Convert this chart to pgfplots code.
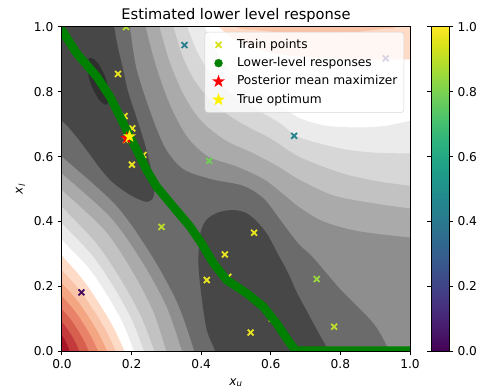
\documentclass[border=0pt]{standalone}
\usepackage{fontspec}
\setmainfont{DejaVu Sans}
\usepackage{pgfplots}
\pgfplotsset{compat=1.18}
\usetikzlibrary{plotmarks}
\definecolor{c0}{HTML}{A81529}
\definecolor{c1}{HTML}{C4393B}
\definecolor{c2}{HTML}{D6604D}
\definecolor{c3}{HTML}{E8836A}
\definecolor{c4}{HTML}{F4A582}
\definecolor{c5}{HTML}{F9C3A8}
\definecolor{c6}{HTML}{FDDBC7}
\definecolor{c7}{HTML}{FFFFFF}
\definecolor{c8}{HTML}{EBEBEB}
\definecolor{c9}{HTML}{D7D7D7}
\definecolor{c10}{HTML}{C2C2C2}
\definecolor{c11}{HTML}{AAAAAA}
\definecolor{c12}{HTML}{8E8E8E}
\definecolor{c13}{HTML}{6B6B6B}
\definecolor{c14}{HTML}{474747}
\definecolor{c15}{HTML}{2F2F2F}
\definecolor{mplgreen}{HTML}{008000}
\definecolor{legyellow}{HTML}{D8E219}
\pgfdeclareplotmark{fstar}{%
 \pgfpathmoveto{\pgfpointpolar{90}{\pgfplotmarksize}}%
 \pgfpathlineto{\pgfpointpolar{126}{0.4\pgfplotmarksize}}%
 \pgfpathlineto{\pgfpointpolar{162}{\pgfplotmarksize}}%
 \pgfpathlineto{\pgfpointpolar{198}{0.4\pgfplotmarksize}}%
 \pgfpathlineto{\pgfpointpolar{234}{\pgfplotmarksize}}%
 \pgfpathlineto{\pgfpointpolar{270}{0.4\pgfplotmarksize}}%
 \pgfpathlineto{\pgfpointpolar{306}{\pgfplotmarksize}}%
 \pgfpathlineto{\pgfpointpolar{342}{0.4\pgfplotmarksize}}%
 \pgfpathlineto{\pgfpointpolar{18}{\pgfplotmarksize}}%
 \pgfpathlineto{\pgfpointpolar{54}{0.4\pgfplotmarksize}}%
 \pgfpathclose\pgfusepathqfill}
\pgfplotstableread{
x y c
0.184 1.000 0.88
0.352 0.944 0.42
0.930 0.903 0.10
0.161 0.855 0.97
0.180 0.725 0.97
0.202 0.687 0.97
0.184 0.651 0.97
0.201 0.575 0.97
0.234 0.605 0.97
0.423 0.587 0.78
0.667 0.664 0.45
0.286 0.383 0.90
0.552 0.365 0.97
0.468 0.298 0.97
0.416 0.219 0.97
0.478 0.229 0.97
0.732 0.222 0.85
0.542 0.057 0.97
0.603 0.100 0.97
0.782 0.075 0.90
0.056 0.181 0.02
}\trainpts
\begin{document}
\begin{tikzpicture}
\begin{axis}[
  name=main,
  scale only axis, width=285.4pt, height=265.7pt,
  xmin=0, xmax=1, ymin=0, ymax=1,
  axis on top,
  clip marker paths=true,
  xtick={0,0.2,0.4,0.6,0.8,1}, ytick={0,0.2,0.4,0.6,0.8,1},
  tick align=outside, xtick pos=left, ytick pos=left,
  major tick length=3.5pt,
  every tick/.style={black, line width=0.8pt},
  axis line style={line width=0.8pt},
  tick label style={font=\fontsize{10}{12}\selectfont},
  /pgf/number format/fixed, /pgf/number format/fixed zerofill,
  /pgf/number format/precision=1, /pgf/number format/assume math mode=true,
  title={Estimated lower level response},
  title style={font=\fontsize{12}{14}\selectfont, at={(0.5,1)}, anchor=base, yshift=0pt},
  xlabel={\textit{x}\textsubscript{\textit{u}}},
  ylabel={\textit{x}\textsubscript{\textit{l}}},
  every axis x label/.style={at={(axis description cs:0.5,-0.098)}, anchor=center, font=\fontsize{10}{12}\selectfont},
  every axis y label/.style={at={(axis description cs:-0.119,0.5)}, anchor=center, rotate=90, font=\fontsize{10}{12}\selectfont},
  colormap/viridis,
  point meta min=0, point meta max=1,
  colorbar,
  colorbar style={
    scale only axis, width=14.5pt, height=265.7pt,
    at={(parent axis.north east)}, anchor=north west, xshift=8.9pt,
    ytick={0,0.2,0.4,0.6,0.8,1},
    tick align=outside, major tick length=3.5pt,
    every tick/.style={black, line width=0.8pt},
    axis line style={line width=0.8pt},
    yticklabel style={font=\fontsize{10}{12}\selectfont,
      /pgf/number format/fixed, /pgf/number format/fixed zerofill,
      /pgf/number format/precision=1, /pgf/number format/assume math mode=true},
  },
  legend style={at={(0.983,0.985)}, anchor=north east, draw=black!20,
    fill=white, fill opacity=0.8, draw opacity=0.8, text opacity=1,
    rounded corners=2.5pt, inner xsep=2pt, inner ysep=3pt,
    font=\fontsize{10}{12}\selectfont,
    nodes={inner xsep=3.3pt, inner ysep=2.6pt, text height=7.6pt, text depth=2.2pt}},
  legend cell align=left,
  legend image code/.code={\path (-8.4pt,0pt) (11.1pt,0pt); \draw[#1] plot coordinates {(0pt,0pt)};},
]
\addlegendimage{only marks, mark=x, mark size=3.4pt, line width=1.5pt, draw=legyellow, draw opacity=1}
\addlegendentry{Train points}
\addlegendimage{only marks, mark=*, mark size=3.2pt, draw=mplgreen, fill=mplgreen, fill opacity=1, draw opacity=1}
\addlegendentry{Lower-level responses}
\addlegendimage{only marks, mark=fstar, mark size=5.5pt, fill=red, fill opacity=1}
\addlegendentry{Posterior mean maximizer}
\addlegendimage{only marks, mark=fstar, mark size=5.5pt, fill=yellow, fill opacity=1}
\addlegendentry{True optimum}

% ---- filled contour bands ----
\addplot[fill=c0, draw=none, forget plot] coordinates {(-0.2,-0.2)(1.2,-0.2)(1.2,1.2)(-0.2,1.2)};
\addplot[fill=c1, draw=none, smooth, forget plot] coordinates {(-0.03,0.101)(0,0.05)(0.0073,0.0375)(0.0130,0.025)(0.0181,0.0125)(0.022,0)(0.031,-0.03)(1.2,-0.2)(1.2,1.2)(-0.2,1.2)};
\addplot[fill=c2, draw=none, smooth, forget plot] coordinates {(-0.03,0.131)(0,0.09)(0.0166,0.0675)(0.0297,0.045)(0.0411,0.0225)(0.05,0)(0.062,-0.03)(1.2,-0.2)(1.2,1.2)(-0.2,1.2)};
\addplot[fill=c3, draw=none, smooth, forget plot] coordinates {(-0.03,0.168)(0,0.13)(0.0256,0.0975)(0.0457,0.065)(0.0632,0.0325)(0.077,0)(0.0897,-0.03)(1.2,-0.2)(1.2,1.2)(-0.2,1.2)};
\addplot[fill=c4, draw=none, smooth, forget plot] coordinates {(-0.03,0.207)(0,0.17)(0.0345,0.1275)(0.0617,0.085)(0.0854,0.0425)(0.104,0)(0.117,-0.03)(1.2,-0.2)(1.2,1.2)(-0.2,1.2)};
\addplot[fill=c5, draw=none, smooth, forget plot] coordinates {(-0.03,0.246)(0,0.21)(0.0432,0.1575)(0.0771,0.105)(0.1067,0.0525)(0.13,0)(0.143,-0.03)(1.2,-0.2)(1.2,1.2)(-0.2,1.2)};
\addplot[fill=c6, draw=none, smooth, forget plot] coordinates {(-0.03,0.286)(0,0.25)(0.0515,0.1875)(0.0919,0.125)(0.1273,0.0625)(0.155,0)(0.168,-0.03)(1.2,-0.2)(1.2,1.2)(0.975,1.06)(0.96,1)(0.93,0.995)(0.85,0.985)(0.75,0.98)(0.65,0.982)(0.56,0.99)(0.5,1)(0.48,1.06)(-0.2,1.2)};
\addplot[fill=c7, draw=none, smooth, forget plot] coordinates {(-0.03,0.332)(0,0.295)(0.0598,0.2213)(0.1067,0.1475)(0.1478,0.0738)(0.18,0)(0.193,-0.03)(1.2,-0.2)(1.06,0.9)(1,0.9)(0.93,0.9)(0.85,0.9)(0.73,0.905)(0.63,0.915)(0.55,0.935)(0.49,0.965)(0.45,1)(0.41,1.04)(-0.2,1.2)};
\addplot[fill=c8, draw=none, smooth, forget plot] coordinates {(-0.03,0.377)(0,0.343)(0.0764,0.2573)(0.1308,0.1715)(0.1753,0.0858)(0.207,0)(0.218,-0.03)(1.2,-0.2)(1.06,0.72)(1,0.71)(0.93,0.695)(0.86,0.69)(0.76,0.695)(0.68,0.72)(0.61,0.77)(0.54,0.82)(0.48,0.87)(0.44,0.93)(0.41,1)(0.395,1.05)(-0.2,1.2)};
\addplot[fill=c9, draw=none, smooth, forget plot] coordinates {(-0.03,0.428)(0,0.394)(0.0871,0.2955)(0.1492,0.197)(0.1999,0.0985)(0.236,0)(0.247,-0.03)(1.2,-0.2)(1.06,0.61)(1,0.61)(0.9,0.612)(0.8,0.625)(0.68,0.66)(0.63,0.70)(0.56,0.745)(0.49,0.79)(0.43,0.85)(0.39,0.92)(0.36,1)(0.345,1.05)(-0.2,1.2)};
\addplot[fill=c10, draw=none, smooth, forget plot] coordinates {(-0.03,0.479)(0,0.445)(0.0982,0.3338)(0.1681,0.2225)(0.2253,0.1113)(0.266,0)(0.277,-0.03)(1.2,-0.2)(1.06,0.505)(1,0.51)(0.9,0.525)(0.8,0.55)(0.68,0.60)(0.6,0.655)(0.52,0.70)(0.45,0.75)(0.39,0.82)(0.35,0.9)(0.32,1)(0.305,1.05)(-0.2,1.2)};
\addplot[fill=c11, draw=none, smooth, forget plot] coordinates {(-0.03,0.527)(0,0.497)(0.1224,0.3728)(0.201,0.2485)(0.2613,0.1243)(0.30,0)(0.309,-0.03)(1.2,-0.2)(1.06,0.435)(1,0.44)(0.9,0.455)(0.78,0.48)(0.68,0.53)(0.62,0.57)(0.55,0.61)(0.47,0.65)(0.40,0.71)(0.35,0.79)(0.31,0.89)(0.28,1)(0.265,1.05)(-0.2,1.2)};
\addplot[fill=c12, draw=none, smooth, forget plot] coordinates {(-0.03,0.577)(0,0.548)(0.1408,0.411)(0.2312,0.274)(0.3005,0.137)(0.345,0)(0.355,-0.03)(1.2,-0.2)(1.06,0.345)(1,0.35)(0.85,0.37)(0.75,0.40)(0.68,0.445)(0.64,0.48)(0.58,0.53)(0.5,0.57)(0.42,0.60)(0.36,0.66)(0.31,0.76)(0.27,0.88)(0.24,1)(0.228,1.05)(-0.2,1.2)};
\addplot[fill=c13, draw=none, smooth, forget plot] coordinates {(-0.03,0.629)(0,0.60)(0.155,0.45)(0.2546,0.30)(0.331,0.15)(0.38,0)(0.39,-0.06)(0.96,-0.06)(0.94,0)(0.895,0.085)(0.80,0.19)(0.72,0.29)(0.68,0.33)(0.63,0.40)(0.58,0.47)(0.52,0.51)(0.43,0.53)(0.35,0.56)(0.30,0.62)(0.262,0.713)(0.215,0.867)(0.195,1)(0.188,1.05)(-0.2,1.2)};
\addplot[fill=c14, draw=none, smooth, forget plot] coordinates {(-0.06,0.745)(0,0.71)(0.035,0.67)(0.071,0.62)(0.105,0.57)(0.138,0.528)(0.17,0.50)(0.205,0.476)(0.243,0.46)(0.26,0.47)(0.266,0.495)(0.262,0.53)(0.25,0.59)(0.235,0.65)(0.21,0.734)(0.19,0.80)(0.176,0.867)(0.16,0.94)(0.15,1)(0.14,1.06)(-0.1,1.1)};
\addplot[fill=c14, draw=none, smooth, forget plot] coordinates {(0.45,-0.06)(0.44,0)(0.416,0.065)(0.401,0.168)(0.392,0.27)(0.397,0.36)(0.415,0.405)(0.45,0.428)(0.49,0.435)(0.525,0.428)(0.555,0.405)(0.59,0.36)(0.62,0.30)(0.65,0.24)(0.675,0.18)(0.705,0.12)(0.735,0.06)(0.765,0)(0.78,-0.06)};
\addplot[fill=c15, draw=none, smooth, forget plot] coordinates {(0.129,0.760)(0.137,0.787)(0.126,0.841)(0.103,0.889)(0.080,0.905)(0.072,0.878)(0.083,0.824)(0.107,0.775)(0.129,0.760)(0.137,0.787)};

% ---- train points ----
\addplot[scatter, only marks, mark=x, mark size=3.4pt, line width=1.5pt,
  point meta=explicit, scatter/use mapped color={draw=mapped color, fill=mapped color}, forget plot]
  table[x=x, y=y, meta=c] {\trainpts};

% ---- lower-level responses ----
\addplot[mplgreen, line width=7pt, line cap=round, line join=round, forget plot] coordinates {
(0,0.99)(0.042,0.919)(0.1,0.847)(0.138,0.785)(0.167,0.723)(0.19,0.672)(0.215,0.62)(0.243,0.559)(0.272,0.507)(0.32,0.445)(0.368,0.384)(0.401,0.332)(0.435,0.271)(0.473,0.219)(0.531,0.178)(0.578,0.137)(0.617,0.085)(0.655,0.024)(0.672,0.001)(1.0,0.001)};

% ---- stars ----
\addplot[only marks, mark=fstar, mark size=5.5pt, fill=red, draw=none, forget plot] coordinates {(0.186,0.657)};
\addplot[only marks, mark=fstar, mark size=5.5pt, fill=yellow, draw=none, forget plot] coordinates {(0.194,0.662)};
\end{axis}
\path (main.south west) ++(-50.8pt,-33.6pt) rectangle ++(395.2pt,321.4pt);
\end{tikzpicture}
\end{document}
